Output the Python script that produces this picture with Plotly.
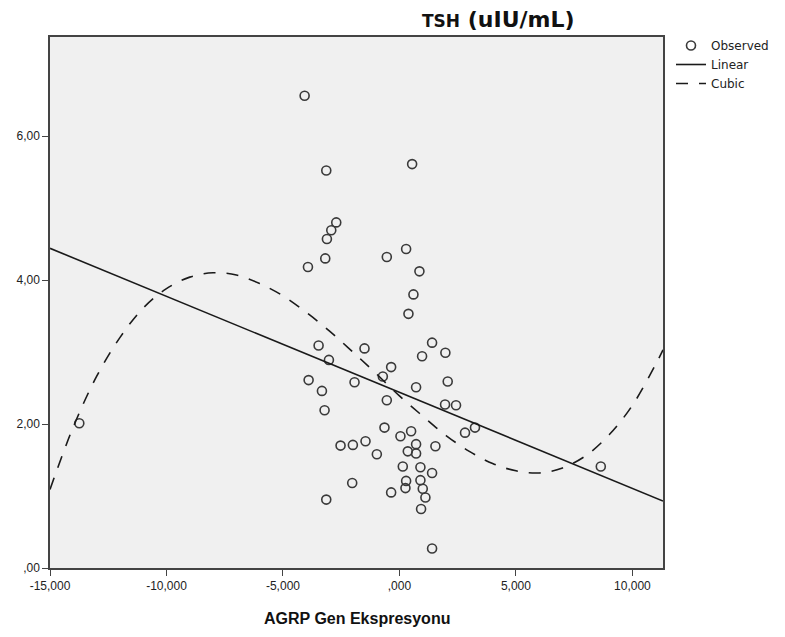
import plotly.graph_objects as go

# Observed points (AGRP Gen Ekspresyonu, TSH)
obs_x = [-13.742, 8.642, -4.071, -3.141, 0.544, -2.713, -2.927, -3.114, -3.185, -3.928,
         -0.543, 0.286, 0.857, 0.600, 0.386, -3.471, -3.028, -1.500, -3.899, -3.328,
         -3.214, -1.928, -0.714, -0.357, -0.543, 0.714, 0.971, 1.400, 1.971, 2.071,
         1.957, 2.428, 2.814, 3.242, -0.643, 0.500, 0.043, -1.457, -2.000, -2.528,
         0.714, 1.543, -0.971, 0.357, 0.714, 0.143, 0.900, 1.400, 0.286, 0.257,
         0.900, 1.000, 1.114, 0.928, -0.357, -2.028, -3.142, 1.400]
obs_y = [2.01, 1.41, 6.56, 5.52, 5.61, 4.80, 4.69, 4.57, 4.30, 4.18,
         4.32, 4.43, 4.12, 3.80, 3.53, 3.09, 2.89, 3.05, 2.61, 2.46,
         2.19, 2.58, 2.66, 2.79, 2.33, 2.51, 2.94, 3.13, 2.99, 2.59,
         2.27, 2.26, 1.88, 1.95, 1.95, 1.90, 1.83, 1.76, 1.71, 1.70,
         1.72, 1.69, 1.58, 1.62, 1.59, 1.41, 1.40, 1.32, 1.21, 1.11,
         1.22, 1.10, 0.98, 0.82, 1.05, 1.18, 0.95, 0.27]

# Linear fit line (read endpoints)
lin_x = [-15.0, 11.312]
lin_y = [4.44, 0.93]

# Cubic fit curve (read points)
cub_x = [-15.0, -14.0, -13.0, -12.0, -11.0, -10.0, -9.0, -8.0, -7.0, -6.0, -5.0, -4.0,
         -3.0, -2.0, -1.0, 0.0, 1.0, 2.0, 3.0, 4.0, 5.0, 6.0, 7.0, 8.0, 9.0, 10.0, 11.0, 11.312]
cub_y = [1.09, 1.96, 2.66, 3.20, 3.61, 3.88, 4.04, 4.10, 4.07, 3.95, 3.78, 3.55,
         3.29, 3.00, 2.70, 2.39, 2.11, 1.84, 1.62, 1.45, 1.35, 1.32, 1.39, 1.56, 1.85, 2.26, 2.83, 3.03]

x_tickvals = [-15, -10, -5, 0, 5, 10]
x_ticktext = ["-15,000", "-10,000", "-5,000", ",000", "5,000", "10,000"]
y_tickvals = [0, 2, 4, 6]
y_ticktext = [",00", "2,00", "4,00", "6,00"]

FONT = "Liberation Sans, Arial, sans-serif"
WIDE = "DejaVu Sans, Verdana, sans-serif"
W0, W1, H0, H1 = 50, 664, 37, 568   # plot area in pixels


def px_to_paper(px, py):
    return (px - W0) / (W1 - W0), (H1 - py) / (H1 - H0)


fig = go.Figure()
fig.add_trace(go.Scatter(
    x=obs_x, y=obs_y, mode="markers", name="Observed",
    marker=dict(symbol="circle-open", size=9, color="#3a3a3a", line=dict(width=1.6, color="#3a3a3a")),
))
fig.add_trace(go.Scatter(
    x=lin_x, y=lin_y, mode="lines", name="Linear",
    line=dict(color="#1a1a1a", width=1.6),
))
fig.add_trace(go.Scatter(
    x=cub_x, y=cub_y, mode="lines", name="Cubic",
    line=dict(color="#1a1a1a", width=1.6, dash="12px,11px", shape="spline"),
))

tx, ty = px_to_paper(499, 19)
ax_, ay_ = px_to_paper(357, 619)
lx, ly = px_to_paper(671, 31)

fig.update_layout(
    width=785, height=637,
    margin=dict(l=W0, r=785 - W1, t=H0, b=637 - H1),
    paper_bgcolor="white",
    plot_bgcolor="#f0f0f0",
    font=dict(family=FONT, size=12, color="#222"),
    showlegend=True,
    legend=dict(
        x=lx, y=ly, xanchor="left", yanchor="top",
        font=dict(family=WIDE, size=12, color="#222"),
        bgcolor="rgba(0,0,0,0)", itemwidth=30, tracegroupgap=0,
    ),
    annotations=[
        dict(text="<b><span style='font-size:17px'>TSH</span> (uIU/mL)</b>", x=tx, y=ty,
             xref="paper", yref="paper", xanchor="center", yanchor="middle",
             showarrow=False, font=dict(family=WIDE, size=22, color="#111")),
        dict(text="<b>AGRP Gen Ekspresyonu</b>", x=ax_, y=ay_,
             xref="paper", yref="paper", xanchor="center", yanchor="middle",
             showarrow=False, font=dict(family=FONT, size=16, color="#111")),
    ],
)

fig.update_xaxes(
    range=[-15.0, 11.312], tickvals=x_tickvals, ticktext=x_ticktext,
    showgrid=False, zeroline=False, showline=True, linecolor="#444", linewidth=1.5,
    mirror=True, ticks="outside", ticklen=6, tickcolor="#444", tickwidth=1.3,
    tickfont=dict(family=FONT, size=12, color="#222"),
)
fig.update_yaxes(
    range=[0, 7.375], tickvals=y_tickvals, ticktext=y_ticktext,
    showgrid=False, zeroline=False, showline=True, linecolor="#444", linewidth=1.5,
    mirror=True, ticks="outside", ticklen=6, tickcolor="#444", tickwidth=1.3,
    tickfont=dict(family=FONT, size=12, color="#222"),
)

fig.write_html("out.html")
